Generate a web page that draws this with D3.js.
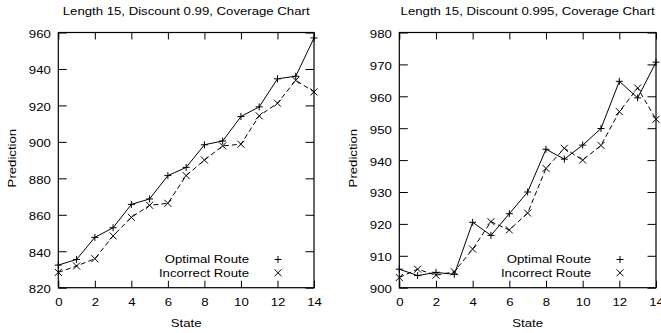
<!DOCTYPE html>
<html>
<head>
<meta charset="utf-8">
<script src="https://cdn.jsdelivr.net/npm/d3@7"></script>
<style>
  html, body { margin: 0; padding: 0; background: #fff; }
  svg { display: block; }
  text { font-family: "Liberation Sans", Arial, Helvetica, sans-serif; font-size: 11px; fill: #000; }
</style>
</head>
<body>
<svg id="chart" width="661" height="333"></svg>
<script>
// ---- Data ----
const states = [0, 1, 2, 3, 4, 5, 6, 7, 8, 9, 10, 11, 12, 13, 14];

const leftTitle = "Length 15, Discount 0.99, Coverage Chart";
const leftOptimal   = [832.4, 835.5, 847.6, 852.9, 865.7, 868.7, 881.5, 886.0, 898.4, 900.5, 913.9, 919.2, 934.6, 936.0, 957.0];
const leftIncorrect = [828.4, 831.9, 835.9, 848.4, 858.6, 865.2, 866.3, 881.5, 890.0, 897.8, 898.7, 914.3, 921.2, 933.8, 927.4];
const leftYTicks = [820, 840, 860, 880, 900, 920, 940, 960];

const rightTitle = "Length 15, Discount 0.995, Coverage Chart";
const rightOptimal   = [905.8, 903.8, 904.8, 904.2, 920.5, 916.4, 923.2, 930.0, 943.4, 940.3, 944.7, 949.9, 964.7, 959.5, 970.7];
const rightIncorrect = [903.2, 905.8, 903.9, 905.0, 912.1, 920.7, 918.1, 923.4, 937.4, 943.7, 940.0, 944.6, 955.2, 962.6, 952.8];
const rightYTicks = [900, 910, 920, 930, 940, 950, 960, 970, 980];

const xTicks = [0, 2, 4, 6, 8, 10, 12, 14];
const seriesNames = ["Optimal Route", "Incorrect Route"];
const xLabel = "State";
const yLabel = "Prediction";

// ---- Drawing ----
const svg = d3.select("#chart");
const SX = 1.2; // horizontal stretch of the reference's lettering

function label(g, x, y, str, anchor, rot) {
  g.append("text")
    .attr("transform", `translate(${x},${y}) rotate(${rot || 0}) scale(${SX},1)`)
    .attr("text-anchor", anchor)
    .text(str);
}

function plus(g, x, y) {
  const r = 3.5;
  g.append("path").attr("d", `M${x - r},${y}H${x + r}M${x},${y - r}V${y + r}`)
    .attr("stroke", "#000").attr("stroke-width", 1).attr("fill", "none");
}
function cross(g, x, y) {
  const r = 3.5;
  g.append("path").attr("d", `M${x - r},${y - r}L${x + r},${y + r}M${x - r},${y + r}L${x + r},${y - r}`)
    .attr("stroke", "#000").attr("stroke-width", 1).attr("fill", "none");
}

function panel(opts) {
  const { left, right, top, bottom, yDomain, yTicks, title, optimal, incorrect } = opts;
  const g = svg.append("g");
  const x = d3.scaleLinear().domain([0, 14]).range([left, right]);
  const y = d3.scaleLinear().domain(yDomain).range([bottom, top]);

  // ticks (inward, mirrored)
  const styleAxis = sel => {
    sel.select(".domain").remove();
    sel.selectAll(".tick line").attr("stroke", "#000").attr("stroke-width", 1);
  };
  const ax = g.append("g").attr("transform", `translate(0,${bottom})`)
    .call(d3.axisBottom(x).tickValues(xTicks).tickSize(-7).tickPadding(0).tickFormat(d3.format("d")));
  styleAxis(ax);
  ax.selectAll(".tick text").attr("y", null).attr("dy", null)
    .attr("transform", `translate(0,18.5) scale(${SX},1)`)
    .style("font-size", "11px").style("font-family", null);

  const at = g.append("g").attr("transform", `translate(0,${top})`)
    .call(d3.axisTop(x).tickValues(xTicks).tickSize(-7).tickFormat(""));
  styleAxis(at);

  const ay = g.append("g").attr("transform", `translate(${left},0)`)
    .call(d3.axisLeft(y).tickValues(yTicks).tickSize(-8.5).tickPadding(0).tickFormat(d3.format("d")));
  styleAxis(ay);
  ay.selectAll(".tick text").attr("x", null).attr("dy", "0.36em")
    .attr("transform", `translate(-7.5,1) scale(${SX},1)`)
    .style("font-size", "11px").style("font-family", null);

  const ar = g.append("g").attr("transform", `translate(${right},0)`)
    .call(d3.axisRight(y).tickValues(yTicks).tickSize(-8.5).tickFormat(""));
  styleAxis(ar);

  // frame
  g.append("rect").attr("x", left).attr("y", top)
    .attr("width", right - left).attr("height", bottom - top)
    .attr("fill", "none").attr("stroke", "#000").attr("stroke-width", 1.2);

  // lines
  const line = d3.line().x((d, i) => x(states[i])).y(d => y(d));
  g.append("path").datum(optimal).attr("d", line)
    .attr("fill", "none").attr("stroke", "#000").attr("stroke-width", 1);
  g.append("path").datum(incorrect).attr("d", line)
    .attr("fill", "none").attr("stroke", "#000").attr("stroke-width", 1)
    .attr("stroke-dasharray", "5,3");

  optimal.forEach((v, i) => plus(g, x(states[i]), y(v)));
  incorrect.forEach((v, i) => cross(g, x(states[i]), y(v)));

  // titles / labels
  label(g, (left + right) / 2, 15, title, "middle");
  label(g, (left + right) / 2, 327, xLabel, "middle");
  label(g, left - 42, (top + bottom) / 2 - 2, yLabel, "middle", -90);

  // legend
  label(g, right - 65, 263, seriesNames[0], "end");
  label(g, right - 65, 276.5, seriesNames[1], "end");
  plus(g, right - 36, 259.5);
  cross(g, right - 36, 272.8);
}

panel({ left: 58.3, right: 314, top: 32.5, bottom: 287.7, yDomain: [820, 960], yTicks: leftYTicks,
        title: leftTitle, optimal: leftOptimal, incorrect: leftIncorrect });
panel({ left: 399.3, right: 656, top: 32.5, bottom: 287.7, yDomain: [900, 980], yTicks: rightYTicks,
        title: rightTitle, optimal: rightOptimal, incorrect: rightIncorrect });
</script>
</body>
</html>
